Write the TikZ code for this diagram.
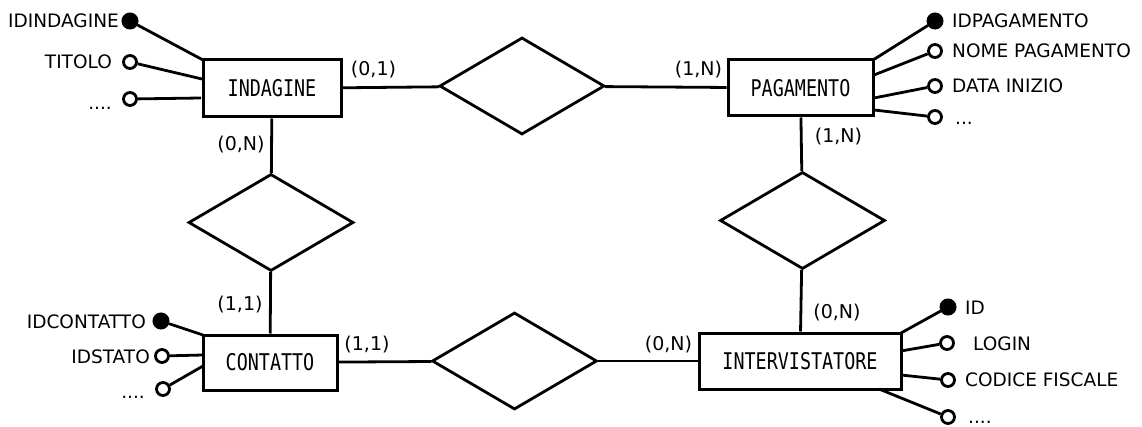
\documentclass[tikz,border=0pt]{standalone}
\usepackage{fontspec}
\setmainfont{DejaVu Sans}
\newfontfamily\entfont[FakeStretch=0.80]{DejaVu Sans Mono}
\usetikzlibrary{shapes.geometric}
\begin{document}
\begin{tikzpicture}[x=1pt,y=-1pt,
  entity/.style={draw, line width=3pt, inner sep=0pt, minimum height=56pt, font=\entfont\fontsize{23}{24}\selectfont},
  rel/.style={diamond, draw, line width=2.8pt, inner sep=0pt, minimum width=165pt, minimum height=97pt},
  card/.style={font=\fontsize{19}{19}\selectfont, inner sep=0pt},
  attr/.style={font=\fontsize{18.5}{18.5}\selectfont, inner sep=0pt},
  keyattr/.style={circle, fill, draw, line width=1pt, minimum size=16pt, inner sep=0pt},
  optattr/.style={circle, draw, line width=2.8pt, minimum size=13pt, inner sep=0pt, fill=white},
  link/.style={line width=2.8pt}]
\useasboundingbox (0,0) rectangle (1142,427);
\fill[white] (0,0) rectangle (1142,427);

% entities
\node[entity, minimum width=138pt, minimum height=57pt] (ind) at (272,88.5) {INDAGINE};
\node[entity, minimum width=145pt] (pag) at (800.5,88) {PAGAMENTO};
\node[entity, minimum width=134pt, minimum height=55pt] (con) at (270,362.5) {CONTATTO};
\node[entity, minimum width=202pt] (int) at (800,361) {INTERVISTATORE};

% relationships
\node[rel] (r1) at (522,86) {};
\node[rel] (r2) at (271,222.5) {};
\node[rel] (r3) at (802.5,220.5) {};
\node[rel] (r4) at (514.5,361) {};

\draw[link] (ind) -- (r1);
\draw[link] (r1) -- (pag);
\draw[link] (ind) -- (r2);
\draw[link] (r2) -- (con);
\draw[link] (pag) -- (r3);
\draw[link] (r3) -- (int);
\draw[link] (con) -- (r4);
\draw[link] (r4) -- (int);

% cardinalities
\node[card] (c1) at (373.5,70) {(0,1)};
\node[card] (c2) at (698.5,70) {(1,N)};
\node[card] (c3) at (241,145) {(0,N)};
\node[card] (c4) at (240,305) {(1,1)};
\node[card] (c5) at (838.5,136.5) {(1,N)};
\node[card] (c6) at (837,312.5) {(0,N)};
\node[card] (c7) at (367,344.5) {(1,1)};
\node[card] (c8) at (668.5,344.5) {(0,N)};

% INDAGINE attributes
\coordinate (ia1) at (203,60);
\coordinate (ia2) at (202,79);
\coordinate (ia3) at (201,98);
\node[keyattr] (ik1) at (130,21) {};
\node[optattr] (io2) at (130,62) {};
\node[optattr] (io3) at (130,99) {};
\draw[link] (ia1) -- (ik1);
\draw[link] (ia2) -- (io2);
\draw[link] (ia3) -- (io3);
\node[attr, anchor=east] (it1) at (119,21) {IDINDAGINE};
\node[attr, anchor=east] (it2) at (112,62) {TITOLO};
\node[attr, anchor=base east] (it3) at (112,110) {....};

% PAGAMENTO attributes
\coordinate (pa1) at (873,60);
\coordinate (pa2) at (874,75);
\coordinate (pa3) at (874,98);
\coordinate (pa4) at (874,110);
\node[keyattr] (pk1) at (935,21) {};
\node[optattr] (po2) at (935,51) {};
\node[optattr] (po3) at (935,86) {};
\node[optattr] (po4) at (935,117) {};
\draw[link] (pa1) -- (pk1);
\draw[link] (pa2) -- (po2);
\draw[link] (pa3) -- (po3);
\draw[link] (pa4) -- (po4);
\node[attr, anchor=west] (pt1) at (952,21) {IDPAGAMENTO};
\node[attr, anchor=west] (pt2) at (952,51) {NOME PAGAMENTO};
\node[attr, anchor=west] (pt3) at (952,86) {DATA INIZIO};
\node[attr, anchor=base west] (pt4) at (955,125) {...};

% CONTATTO attributes
\coordinate (ca1) at (203,335);
\coordinate (ca2) at (203,355);
\coordinate (ca3) at (203,366);
\node[keyattr] (ck1) at (161,321) {};
\node[optattr] (co2) at (162,356) {};
\node[optattr] (co3) at (163,389) {};
\draw[link] (ca1) -- (ck1);
\draw[link] (ca2) -- (co2);
\draw[link] (ca3) -- (co3);
\node[attr, anchor=east] (ct1) at (146,322) {IDCONTATTO};
\node[attr, anchor=east] (ct2) at (150,357) {IDSTATO};
\node[attr, anchor=base east] (ct3) at (145,398) {....};

% INTERVISTATORE attributes
\coordinate (na1) at (901,333);
\coordinate (na2) at (901,351);
\coordinate (na3) at (901,375);
\coordinate (na4) at (879,389);
\node[keyattr] (nk1) at (948,307) {};
\node[optattr] (no2) at (947,343) {};
\node[optattr] (no3) at (948,380) {};
\node[optattr] (no4) at (948,417) {};
\draw[link] (na1) -- (nk1);
\draw[link] (na2) -- (no2);
\draw[link] (na3) -- (no3);
\draw[link] (na4) -- (no4);
\node[attr, anchor=west] (nt1) at (965,308) {ID};
\node[attr, anchor=west] (nt2) at (973,344) {LOGIN};
\node[attr, anchor=west] (nt3) at (965,380) {CODICE FISCALE};
\node[attr, anchor=base west] (nt4) at (968,423) {....};
\end{tikzpicture}
\end{document}
